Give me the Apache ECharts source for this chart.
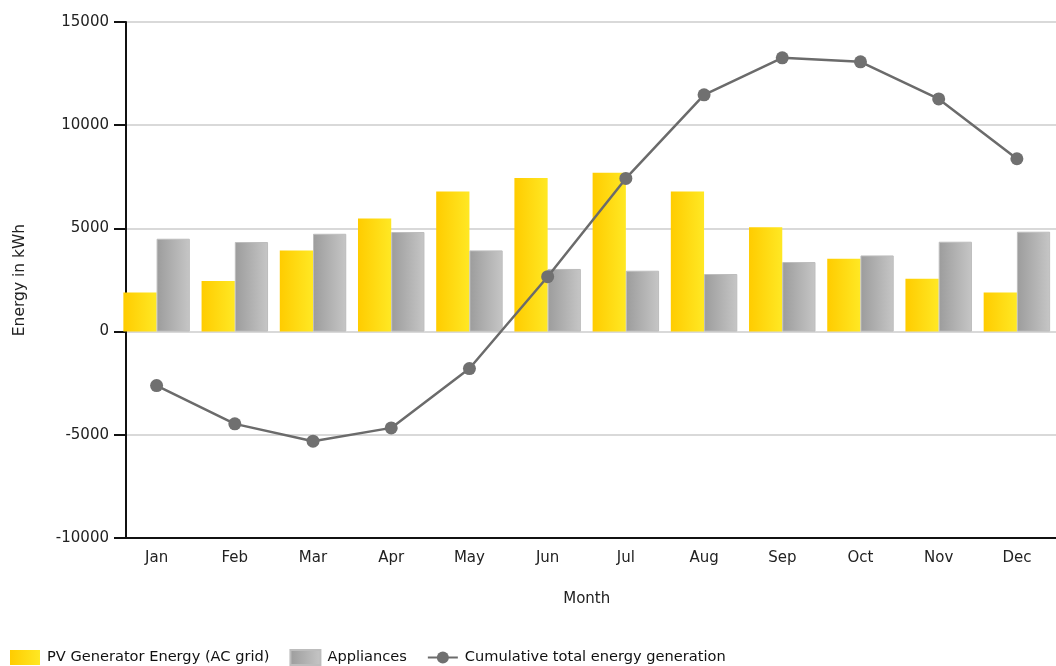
<!DOCTYPE html>
<html>
<head>
<meta charset="utf-8">
<script src="https://cdn.jsdelivr.net/npm/echarts@6/dist/echarts.min.js"></script>
<style>html,body{margin:0;padding:0;background:#fff}#c{width:1056px;height:666px}</style>
</head>
<body>
<div id="c"></div>
<script>
const months = ['Jan','Feb','Mar','Apr','May','Jun','Jul','Aug','Sep','Oct','Nov','Dec'];
const pvEnergy = [1900, 2450, 3935, 5485, 6790, 7440, 7695, 6790, 5060, 3535, 2565, 1900];
const appliances = [4500, 4340, 4740, 4825, 3935, 3035, 2950, 2790, 3370, 3690, 4355, 4840];
const cumulative = [-2615, -4470, -5310, -4665, -1790, 2660, 7420, 11470, 13265, 13070, 11275, 8375];
const yTicks = [-10000, -5000, 0, 5000, 10000, 15000];

const FONT = 'DejaVu Sans';
const chart = echarts.init(document.getElementById('c'), null, {renderer: 'canvas'});
chart.setOption({
  animation: false,
  textStyle: {fontFamily: FONT},
  grid: {left: 117.5, top: 22, width: 948, height: 516, containLabel: false},
  legend: {
    left: 10, top: 649, padding: 0, itemWidth: 30, itemHeight: 15, itemGap: 20,
    textStyle: {fontFamily: FONT, fontSize: 14.6, color: '#111', padding: [0, 0, 0, 2]},
    data: [
      {name: 'PV Generator Energy (AC grid)', icon: 'rect'},
      {name: 'Appliances', icon: 'rect'},
      {name: 'Cumulative total energy generation'}
    ]
  },
  xAxis: {
    type: 'category', data: months, boundaryGap: true,
    name: 'Month', nameLocation: 'middle', nameGap: 54,
    nameTextStyle: {fontFamily: FONT, fontSize: 15, color: '#222'},
    axisLine: {onZero: false, lineStyle: {color: '#111', width: 2}},
    axisTick: {alignWithLabel: true, length: 7, lineStyle: {color: '#111', width: 2}},
    axisLabel: {fontFamily: FONT, fontSize: 15, color: '#222', margin: 13},
    splitLine: {show: false}
  },
  yAxis: {
    type: 'value', min: yTicks[0], max: yTicks[yTicks.length - 1], interval: 5000,
    offset: -8.5,
    name: 'Energy in kWh', nameLocation: 'middle', nameGap: 98, nameRotate: 90,
    nameTextStyle: {fontFamily: FONT, fontSize: 15.5, color: '#222'},
    axisLine: {show: true, lineStyle: {color: '#111', width: 2}},
    axisTick: {show: true, length: 12, lineStyle: {color: '#111', width: 2}},
    axisLabel: {fontFamily: FONT, fontSize: 15, color: '#222', margin: 17,
      formatter: function (v) { return String(v); }},
    splitLine: {show: true, lineStyle: {color: '#cccccc', width: 1.5}}
  },
  series: [
    {
      name: 'PV Generator Energy (AC grid)', type: 'bar', data: pvEnergy,
      barGap: '0%', barCategoryGap: '15%',
      itemStyle: {
        color: {type: 'linear', x: 0, y: 0, x2: 1, y2: 0,
          colorStops: [{offset: 0, color: '#FFCC00'}, {offset: 1, color: '#FFE824'}]}
      }
    },
    {
      name: 'Appliances', type: 'bar', data: appliances,
      barGap: '0%', barCategoryGap: '15%',
      itemStyle: {
        color: {type: 'linear', x: 0, y: 0, x2: 1, y2: 0,
          colorStops: [{offset: 0, color: '#9C9C9C'}, {offset: 1, color: '#C6C6C6'}]},
        borderColor: '#BDBDBD', borderWidth: 1
      }
    },
    {
      name: 'Cumulative total energy generation', type: 'line', data: cumulative,
      symbol: 'circle', symbolSize: 13,
      lineStyle: {color: '#6B6B6B', width: 2.5},
      itemStyle: {color: '#707070'},
      z: 5
    }
  ]
});
</script>
</body>
</html>
